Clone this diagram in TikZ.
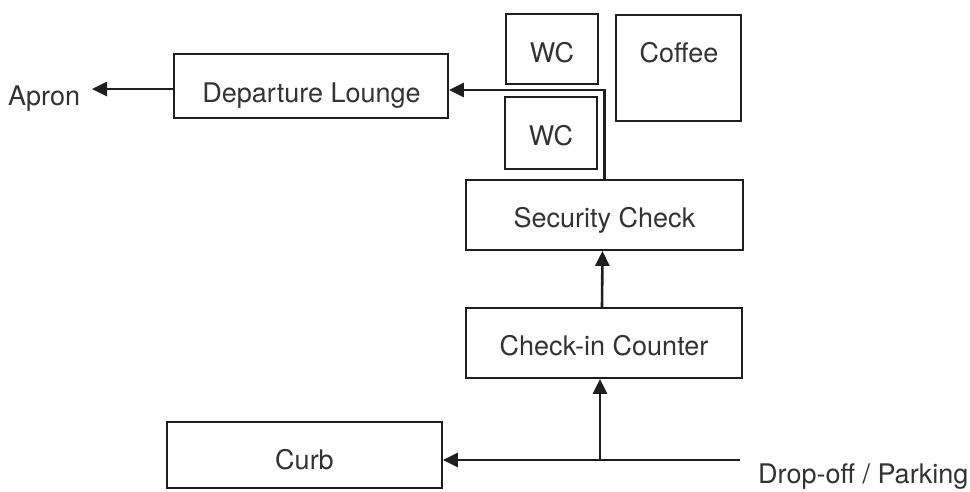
\documentclass[tikz,border=0pt]{standalone}
\usepackage{fontspec}
\setmainfont{TeX Gyre Heros}
\usetikzlibrary{arrows.meta,calc}
\definecolor{ink}{HTML}{1E1E1E}
\definecolor{txt}{HTML}{333333}
\begin{document}
\begin{tikzpicture}[x=1pt,y=-1pt,
  box/.style={draw=ink,line width=1.8pt,rectangle,inner sep=0pt},
  lbl/.style={inner sep=0pt,anchor=base,text=txt,font=\fontsize{27}{31}\selectfont},
  arr/.style={draw=ink,line width=2.6pt,-{Triangle[length=15pt,width=14pt]}}]
\useasboundingbox[fill=white] (0,0) rectangle (970,491);
% boxes
\node[box,minimum width=274pt,minimum height=64pt] (dep) at (311,86) {};
\node[box,minimum width=92pt,minimum height=70pt] (wca) at (552,49) {};
\node[box,minimum width=125pt,minimum height=106pt] (cof) at (678.5,68) {};
\node[box,minimum width=92pt,minimum height=72pt] (wcb) at (551,133) {};
\node[box,minimum width=277pt,minimum height=70pt] (sec) at (604.5,215) {};
\node[box,minimum width=276pt,minimum height=70pt] (chk) at (604,343) {};
\node[box,minimum width=275pt,minimum height=66pt] (curb) at (304.5,455) {};
% labels
\node[lbl] (deptxt) at (311.5,102) {Departure Lounge};
\node[lbl] (wcatxt) at (552,62) {WC};
\node[lbl] (coftxt) at (679,62) {Coffee};
\node[lbl] (wcbtxt) at (551,145) {WC};
\node[lbl] (sectxt) at (604.5,227) {Security Check};
\node[lbl] (chktxt) at (604,355) {Check-in Counter};
\node[lbl] (curbtxt) at (304.5,469) {Curb};
\node[lbl,anchor=base west] (apron) at (8,105) {Apron};
\node[lbl,anchor=base west] (drop) at (758,483) {Drop-off / Parking};
\coordinate (dp) at (740,460);
\coordinate (j) at (600,460);
\coordinate (at) at (92,89);
% connectors
\draw[arr] (sec.north) |- ([yshift=-4pt]dep.east);
\draw[arr] ([yshift=-3pt]dep.west) -- (at);
\draw[arr] ([xshift=-2pt]chk.north) -- ([xshift=-2pt]sec.south);
\draw[arr] (dp) -- ([yshift=-5pt]curb.east);
\draw[arr] (j) -- (chk.south -| j);
\end{tikzpicture}
\end{document}
